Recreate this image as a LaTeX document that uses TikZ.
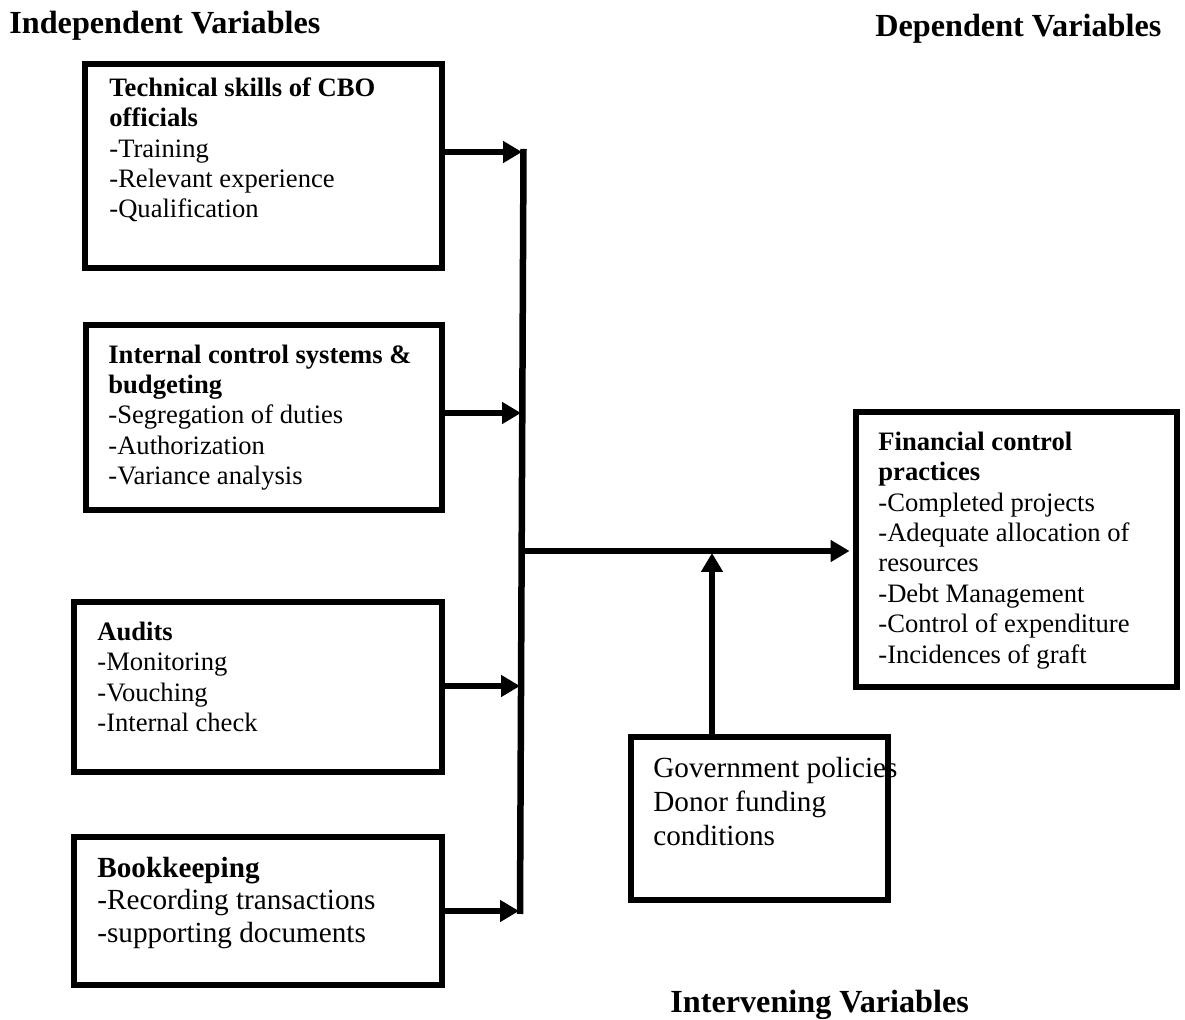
\documentclass[tikz,border=0pt]{standalone}
\usepackage{fontspec}
\setmainfont{Liberation Serif}
\usetikzlibrary{arrows.meta,fit}
\begin{document}
\begin{tikzpicture}[x=0.5pt,y=-0.5pt,
  box/.style={draw, line width=3.25pt, inner sep=0pt},
  link/.style={line width=3.25pt},
  arr/.style={line width=3.25pt, -{Triangle[length=9.5pt,width=10.5pt]}},
  txt/.style={anchor=north west, inner sep=0pt, align=left, font={\fontsize{13.3}{15.2}\selectfont}},
  bigtxt/.style={anchor=north west, inner sep=0pt, align=left, font={\fontsize{14.6}{16.4}\selectfont}},
  ivtxt/.style={anchor=north west, inner sep=0pt, align=left, font={\fontsize{14.6}{17}\selectfont}},
  title/.style={anchor=base west, inner sep=0pt, font={\fontsize{16.1}{18}\selectfont\bfseries}}]
\useasboundingbox (0,0) rectangle (1185,1020);

% titles
\node[title] (tind) at (9,34) {Independent Variables};
\node[title] (tdep) at (875,37) {Dependent Variables};
\node[title] (tint) at (670,1013) {Intervening Variables};

% boxes
\node[box, fit={(85,64) (442,268)}] (b1) {};
\node[box, fit={(86,325) (442,510)}] (b2) {};
\node[box, fit={(74,602) (442,772)}] (b3) {};
\node[box, fit={(74,837) (442,985)}] (b4) {};
\node[box, fit={(856,412) (1177,687)}] (rb) {};
\node[box, fit={(631,737) (888,900)}] (ib) {};

% box texts
\node[txt] (t1) at (109,69.4) {\rule{0pt}{1em}\textbf{Technical skills of CBO}\\\textbf{officials}\\-Training\\-Relevant experience\\-Qualification};
\node[txt] (t2) at (108,336.1) {\rule{0pt}{1em}\textbf{Internal control systems \&}\\\textbf{budgeting}\\-Segregation of duties\\-Authorization\\-Variance analysis};
\node[txt] (t3) at (97,613.4) {\rule{0pt}{1em}\textbf{Audits}\\-Monitoring\\-Vouching\\-Internal check};
\node[bigtxt] (t4) at (97,847.5) {\rule{0pt}{1em}\textbf{Bookkeeping}\\-Recording transactions\\-supporting documents};
\node[txt] (tr) at (878,423.4) {\rule{0pt}{1em}\textbf{Financial control}\\\textbf{practices}\\-Completed projects\\-Adequate allocation of\\resources\\-Debt Management\\-Control of expenditure\\-Incidences of graft};
\node[ivtxt] (ti) at (653,747.5) {\rule{0pt}{1em}Government policies\\Donor funding\\conditions};

% junction line
\coordinate (top) at (523.5,149);
\coordinate (bot) at (520,914);
\coordinate (j1) at (522,152);
\coordinate (j2) at (521,413);
\coordinate (j3) at (520,686);
\coordinate (j4) at (519,911);
\coordinate (jm) at (522,551);
\coordinate (up) at (712,553);

\draw[link] (top) -- (bot);
\draw[arr] (b1.east |- j1) -- (j1);
\draw[arr] (b2.east |- j2) -- (j2);
\draw[arr] (b3.east |- j3) -- (j3);
\draw[arr] (b4.east |- j4) -- (j4);
\draw[arr, shorten >=1.6pt] (jm) -- (rb.west |- jm);
\draw[arr] (ib.north -| up) -- (up);
\end{tikzpicture}
\end{document}
